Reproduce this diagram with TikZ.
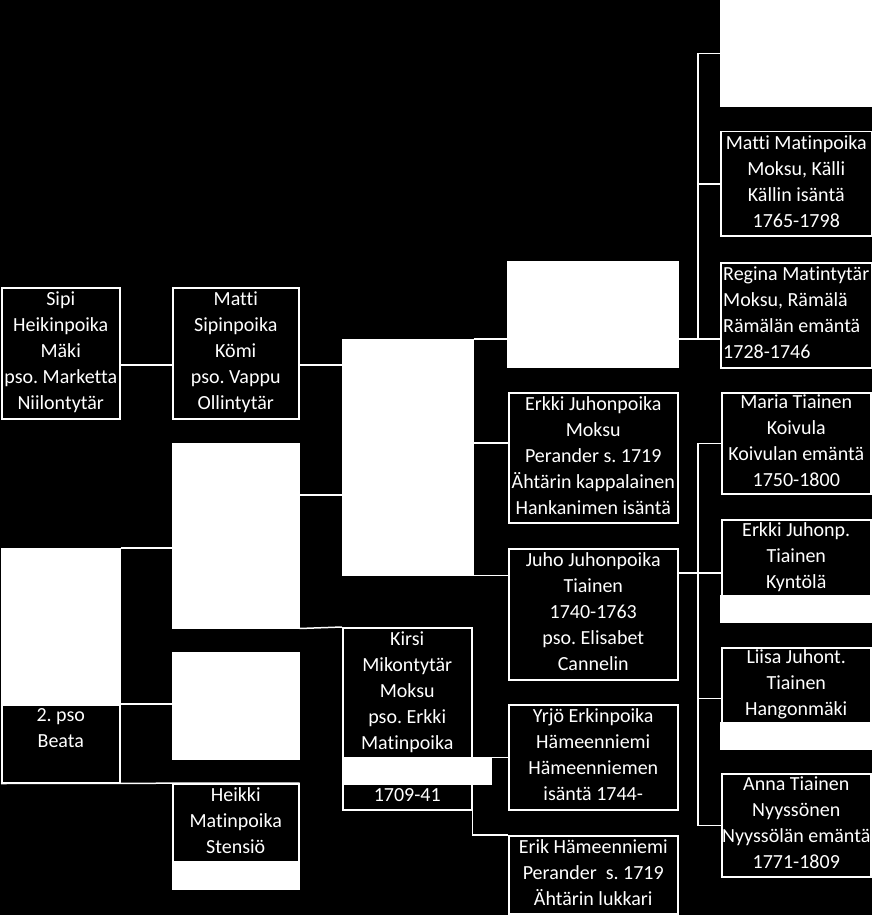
\documentclass[tikz,border=0pt]{standalone}
\usepackage{fontspec}
\setmainfont{Carlito}[Ligatures=CommonOff]
\usetikzlibrary{positioning}
\newcommand\sukufont{\fontsize{20}{26}\selectfont\frenchspacing}
\newcommand\sukustrut{\rule[-4.5pt]{0pt}{26pt}}

\begin{document}
\begin{tikzpicture}[x=1pt, y=-1pt,
    henki/.style={draw=white, fill=black, text=white, line width=1.5pt, anchor=north west,
      align=center, inner sep=0pt, font=\sukufont,
      execute at begin node=\sukustrut, execute at end node=\sukustrut},
    tyhja/.style={draw=white, fill=white, line width=1.5pt, anchor=north west, inner sep=0pt},
    viiva/.style={draw=white, line width=1.5pt}]

    % tausta
    \fill[black] (0,0) rectangle (872,915);
    \useasboundingbox (0,0) rectangle (872,915);

    % vasen puoli
    \node[henki, minimum width=118, minimum height=131] (sipi) at (1,287)
      {Sipi\\Heikinpoika\\Mäki\\pso. Marketta\\Niilontytär};
    \node[henki, minimum width=126, minimum height=131] (matti) at (172,287)
      {Matti\\Sipinpoika\\Kömi\\pso. Vappu\\Ollintytär};
    \node[tyhja, minimum width=126, minimum height=184] (tyhjaA) at (172,443) {};
    \node[tyhja, minimum width=118, minimum height=156] (tyhjaB) at (1,548) {};
    \node[henki, minimum width=118, minimum height=78] (beata) at (1,704)
      {2. pso\\Beata\\};
    \node[tyhja, minimum width=126, minimum height=106] (tyhjaC) at (172,652) {};
    \node[henki, minimum width=126, minimum height=105] (heikki) at (172,783)
      {Heikki\\Matinpoika\\Stensiö\\};

    % keskellä
    \node[tyhja, minimum width=130, minimum height=235] (tyhjaD) at (342,339) {};
    \node[henki, minimum width=129, minimum height=182] (kirsi) at (342,627)
      {Kirsi\\Mikontytär\\Moksu\\pso. Erkki\\Matinpoika\\\\1709-41};
    \node[tyhja, minimum width=170, minimum height=105] (tyhjaE) at (507,261) {};
    \node[henki, minimum width=169, minimum height=130] (erkkiJ) at (508,392)
      {Erkki Juhonpoika\\Moksu\\Perander s. 1719\\Ähtärin kappalainen\\Hankanimen isäntä};
    \node[henki, minimum width=169, minimum height=131] (juho) at (508,548)
      {Juho Juhonpoika\\Tiainen\\1740-1763\\pso. Elisabet\\Cannelin};
    \node[henki, minimum width=169, minimum height=105] (yrjo) at (508,704)
      {Yrjö Erkinpoika\\Hämeenniemi\\Hämeenniemen\\isäntä 1744-};
    \node[henki, minimum width=169, minimum height=78] (erik) at (508,835)
      {Erik Hämeenniemi\\Perander~ s. 1719\\Ähtärin lukkari};

    % oikea puoli
    \node[tyhja, minimum width=152, minimum height=106] (tyhjaF) at (720,0) {};
    \node[henki, minimum width=151, minimum height=104] (mattiM) at (720,131)
      {Matti Matinpoika\\Moksu, Källi\\Källin isäntä\\1765-1798};
    \node[henki, minimum width=151, minimum height=105, align=left] (regina) at (720,262)
      {Regina Matintytär\\Moksu, Rämälä\\Rämälän emäntä\\1728-1746};
    \node[henki, minimum width=149, minimum height=101] (maria) at (721,392)
      {Maria Tiainen\\Koivula\\Koivulan emäntä\\1750-1800};
    \node[henki, minimum width=149, minimum height=102] (erkkiT) at (721,519)
      {Erkki Juhonp.\\Tiainen\\Kyntölä\\};
    \node[henki, minimum width=149, minimum height=101] (liisa) at (721,647)
      {Liisa Juhont.\\Tiainen\\Hangonmäki\\};
    \node[henki, minimum width=149, minimum height=103] (anna) at (721,773)
      {Anna Tiainen\\Nyyssönen\\Nyyssölän emäntä\\1771-1809};

    % liitoskohdat
    \coordinate (haaraA) at (698,339);
    \coordinate (haaraB) at (698,573);

    % viivat
    \draw[viiva] (sipi.east |- 0,365) -- (matti.west |- 0,365);
    \draw[viiva] (matti.east |- 0,365) -- (tyhjaD.west |- 0,365);
    \draw[viiva] (tyhjaA.east |- 0,495) -- (tyhjaD.west |- 0,495);
    \draw[viiva] (tyhjaB.north east) -- (tyhjaA.west |- tyhjaB.north);
    \draw[viiva] (beata.north east) -- (tyhjaC.west |- beata.north);
    \draw[viiva] (beata.south west) -- (heikki.north east);
    \draw[viiva] (tyhjaA.south east) -- (kirsi.north west);
    \draw[viiva] (tyhjaD.north east) -- (tyhjaE.west |- tyhjaD.north);
    \draw[viiva] (tyhjaD.east |- 0,443) -- (erkkiJ.west |- 0,443);
    \draw[viiva] (tyhjaD.south east) -- (juho.west |- tyhjaD.south);
    \draw[viiva] (kirsi.east |- yrjo.west) -- (yrjo.west);
    \draw[viiva] (kirsi.south east) |- (erik.north west);

    \draw[viiva] (tyhjaE.east |- haaraA) -- (regina.west |- haaraA);
    \draw[viiva] (haaraA) |- (tyhjaF.west);
    \draw[viiva] (haaraA) |- (mattiM.west);

    \draw[viiva] (juho.east |- haaraB) -- (erkkiT.west |- haaraB);
    \draw[viiva] (haaraB) |- (maria.west);
    \draw[viiva] (haaraB) |- (liisa.west);
    \draw[viiva] (haaraB) |- (anna.west);

    % valkoiset laikut
    \node[tyhja, minimum width=148, minimum height=26] (laikkuA) at (342,757) {};
    \node[tyhja, minimum width=126, minimum height=27] (laikkuB) at (172,861) {};
    \node[tyhja, minimum width=151, minimum height=26] (laikkuC) at (720,595) {};
    \node[tyhja, minimum width=151, minimum height=26] (laikkuD) at (720,722) {};

\end{tikzpicture}
\end{document}
